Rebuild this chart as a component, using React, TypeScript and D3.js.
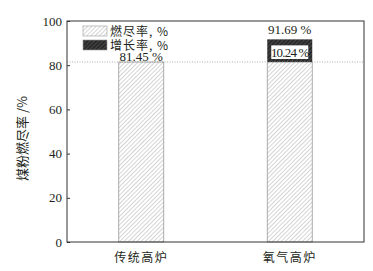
import { useEffect, useRef } from "react";
import * as d3 from "d3";

const categories = ["传统高炉", "氧气高炉"];
const burnout = [81.45, 81.45];
const increase = [0, 10.24];
const totalLabels = ["81.45 %", "91.69 %"];
const increaseLabels = ["", "10.24 %"];
const legendLabels = ["燃尽率, %", "增长率, %"];
const yTicks = [0, 20, 40, 60, 80, 100];

export default function App() {
	const ref = useRef<SVGSVGElement>(null);

	useEffect(() => {
		const svg = d3.select(ref.current);
		svg.selectAll("*").remove();

		const W = 373, H = 271;
		const margin = { top: 21, right: 9, bottom: 29, left: 67 };
		const ink = "#231f20";
		const serif = "'Liberation Serif', 'DejaVu Serif', serif";
		const cjk = "'Noto Sans CJK SC', sans-serif";

		// Hatch patterns
		const defs = svg.append("defs");
		const light = defs.append("pattern")
			.attr("id", "hatch-light")
			.attr("patternUnits", "userSpaceOnUse")
			.attr("width", 3)
			.attr("height", 3)
			.attr("patternTransform", "rotate(45)");
		light.append("rect").attr("width", 3).attr("height", 3).attr("fill", "#fff");
		light.append("line")
			.attr("x1", 0).attr("y1", 0).attr("x2", 0).attr("y2", 3)
			.attr("stroke", "#aaa").attr("stroke-width", 1);

		const dark = defs.append("pattern")
			.attr("id", "hatch-dark")
			.attr("patternUnits", "userSpaceOnUse")
			.attr("width", 3)
			.attr("height", 3)
			.attr("patternTransform", "rotate(45)");
		dark.append("rect").attr("width", 3).attr("height", 3).attr("fill", "#2a2a2a");
		dark.append("line")
			.attr("x1", 0).attr("y1", 0).attr("x2", 0).attr("y2", 3)
			.attr("stroke", "#666").attr("stroke-width", 1);

		const x = d3.scaleBand()
			.domain(categories)
			.range([margin.left, W - margin.right])
			.paddingInner(0.697)
			.paddingOuter(0.3485);

		const y = d3.scaleLinear()
			.domain([0, 100])
			.range([H - margin.bottom, margin.top]);

		// Bars: burnout rate
		svg.selectAll(".bar")
			.data(categories)
			.enter()
			.append("rect")
			.attr("x", d => x(d)!)
			.attr("y", (d, i) => y(burnout[i]))
			.attr("width", x.bandwidth())
			.attr("height", (d, i) => y(0) - y(burnout[i]))
			.attr("fill", "url(#hatch-light)")
			.attr("stroke", "#999")
			.attr("stroke-width", 0.8);

		// Stacked increase segment
		categories.forEach((c, i) => {
			if (increase[i] <= 0) return;
			const y0 = y(burnout[i]);
			const y1 = y(burnout[i] + increase[i]);
			svg.append("rect")
				.attr("x", x(c)!)
				.attr("y", y1)
				.attr("width", x.bandwidth())
				.attr("height", y0 - y1)
				.attr("fill", "url(#hatch-dark)");
			svg.append("rect")
				.attr("x", x(c)! + 4)
				.attr("y", y1 + 6)
				.attr("width", x.bandwidth() - 8)
				.attr("height", y0 - y1 - 9)
				.attr("fill", "#fff");
			svg.append("text")
				.attr("x", x(c)! + x.bandwidth() / 2)
				.attr("y", y0 - 5)
				.attr("text-anchor", "middle")
				.attr("font-family", serif)
				.attr("font-size", 13)
				.attr("letter-spacing", -0.8)
				.attr("fill", ink)
				.text(increaseLabels[i]);
		});

		// Dotted reference line
		svg.append("line")
			.attr("x1", margin.left)
			.attr("x2", W - margin.right)
			.attr("y1", y(burnout[0]))
			.attr("y2", y(burnout[0]))
			.attr("stroke", "#999")
			.attr("stroke-width", 0.8)
			.attr("stroke-dasharray", "1,1.5");

		// Total labels
		const labelGap = [1, 5];
		svg.selectAll(".total")
			.data(categories)
			.enter()
			.append("text")
			.attr("x", d => x(d)! + x.bandwidth() / 2)
			.attr("y", (d, i) => y(burnout[i] + increase[i]) - labelGap[i])
			.attr("text-anchor", "middle")
			.attr("font-family", serif)
			.attr("font-size", 13)
			.attr("fill", ink)
			.text((d, i) => totalLabels[i]);

		// Frame
		svg.append("rect")
			.attr("x", margin.left)
			.attr("y", margin.top)
			.attr("width", W - margin.left - margin.right)
			.attr("height", H - margin.top - margin.bottom)
			.attr("fill", "none")
			.attr("stroke", "#333")
			.attr("stroke-width", 1);

		// Y axis
		const yAxis = svg.append("g")
			.attr("transform", `translate(${margin.left},0)`)
			.call(d3.axisLeft(y).tickValues(yTicks).tickSize(-3).tickPadding(5));
		yAxis.select(".domain").remove();
		yAxis.selectAll("line").attr("stroke", "#333");
		yAxis.selectAll("text")
			.attr("font-family", serif)
			.attr("font-size", 13)
			.attr("fill", ink);

		// X labels
		svg.selectAll(".xlab")
			.data(categories)
			.enter()
			.append("text")
			.attr("x", d => x(d)! + x.bandwidth() / 2)
			.attr("y", H - 9)
			.attr("text-anchor", "middle")
			.attr("font-family", cjk)
			.attr("font-size", 12)
			.attr("letter-spacing", 1.5)
			.attr("fill", ink)
			.text(d => d);

		// Y label
		svg.append("text")
			.attr("transform", `translate(27,${(margin.top + H - margin.bottom) / 2 + 7}) rotate(-90)`)
			.attr("text-anchor", "middle")
			.attr("font-family", cjk)
			.attr("font-size", 13)
			.attr("fill", ink)
			.text("煤粉燃尽率 /%");

		// Legend
		const fills = ["url(#hatch-light)", "url(#hatch-dark)"];
		const legend = svg.append("g").attr("transform", "translate(83,26)");
		legendLabels.forEach((l, i) => {
			legend.append("rect")
				.attr("x", 0)
				.attr("y", i * 14)
				.attr("width", 24)
				.attr("height", 10)
				.attr("fill", fills[i])
				.attr("stroke", "#999")
				.attr("stroke-width", 0.6);
			legend.append("text")
				.attr("x", 27)
				.attr("y", i * 14 + 10)
				.attr("font-family", cjk)
				.attr("font-size", 12)
				.attr("letter-spacing", 1)
				.attr("fill", ink)
				.text(l);
		});
	}, []);

	return (
		<svg
			ref={ref}
			width={373}
			height={271}
			style={{ position: "fixed", left: 0, top: 0, background: "#fff" }}
		/>
	);
}
